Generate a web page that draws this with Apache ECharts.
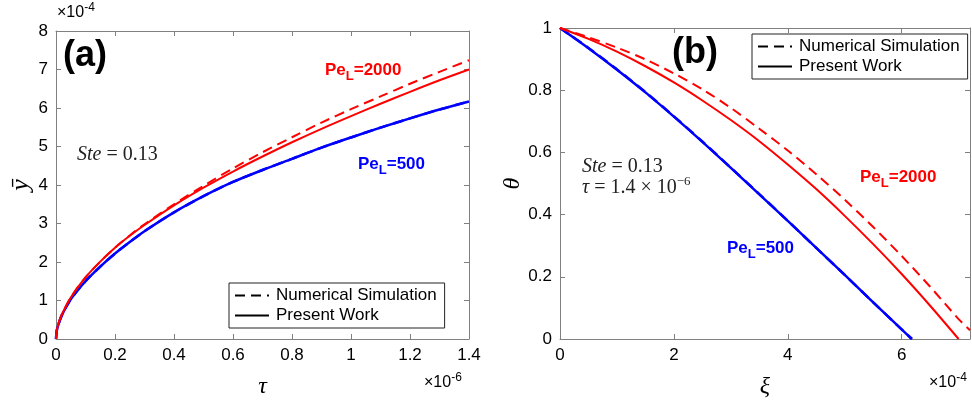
<!DOCTYPE html>
<html>
<head>
<meta charset="utf-8">
<script src="https://cdn.jsdelivr.net/npm/echarts@6/dist/echarts.min.js"></script>
<style>
  html, body { margin: 0; padding: 0; background: #fff; }
  #main { width: 972px; height: 404px; }
</style>
</head>
<body>
<div id="main"></div>
<script>
// panel (a): interface position vs time (y in 1e-4, tau in 1e-6)
var tauA = [0, 0.003, 0.01, 0.02, 0.05, 0.1, 0.15, 0.2, 0.25, 0.3, 0.4, 0.5, 0.6, 0.7, 0.8, 0.9, 1.0, 1.1, 1.2, 1.3, 1.4];
var yRedModelA = [0, 0.24, 0.44, 0.64, 1.08, 1.6, 2.01, 2.37, 2.68, 2.96, 3.47, 3.93, 4.35, 4.74, 5.11, 5.46, 5.79, 6.11, 6.42, 6.72, 7.0];
var yRedSimA = [0, 0.24, 0.44, 0.64, 1.08, 1.6, 2.01, 2.37, 2.69, 2.98, 3.5, 3.98, 4.43, 4.85, 5.24, 5.62, 5.97, 6.3, 6.63, 6.94, 7.24];
var yBlueModelA = [0, 0.23, 0.42, 0.62, 1.03, 1.5, 1.88, 2.22, 2.52, 2.8, 3.29, 3.71, 4.08, 4.39, 4.68, 4.97, 5.235, 5.49, 5.73, 5.96, 6.17];
var yBlueSimA = [0, 0.23, 0.42, 0.62, 1.03, 1.5, 1.88, 2.22, 2.52, 2.8, 3.29, 3.71, 4.08, 4.39, 4.68, 4.97, 5.235, 5.49, 5.73, 5.96, 6.17];

// panel (b): temperature profile (xi in 1e-4)
var xiBlue = [0, 0.5, 1, 1.5, 2, 2.5, 3, 3.5, 4, 4.5, 5, 5.5, 6, 6.18];
var thetaBlueModel = [1, 0.935, 0.866, 0.793, 0.715, 0.634, 0.55, 0.465, 0.38, 0.293, 0.206, 0.118, 0.031, 0];
var thetaBlueSim = [1, 0.936, 0.867, 0.794, 0.716, 0.635, 0.551, 0.466, 0.38, 0.293, 0.206, 0.118, 0.031, 0];
var xiRed = [0, 0.5, 1, 1.5, 2, 2.5, 3, 3.5, 4, 4.5, 5, 5.5, 6, 6.5, 7];
var thetaRedModel = [1, 0.965, 0.924, 0.877, 0.825, 0.767, 0.704, 0.636, 0.561, 0.482, 0.396, 0.305, 0.209, 0.107, 0];
var xiRedSim = [0, 0.5, 1, 1.5, 2, 2.5, 3, 3.5, 4, 4.5, 5, 5.5, 6, 6.5, 7, 7.2];
var thetaRedSim = [1, 0.97, 0.937, 0.899, 0.854, 0.803, 0.743, 0.676, 0.606, 0.53, 0.448, 0.36, 0.267, 0.168, 0.064, 0.028];

var legendNames = ['Numerical Simulation', 'Present Work'];

function pairs(xs, ys) {
    return xs.map(function (x, i) { return [x, ys[i]]; });
}

var sans = 'Liberation Sans, Arial, Helvetica, sans-serif';
var serif = 'Liberation Serif, Times New Roman, serif';
var axisGray = '#808080';

function boxAxis(pos, grid, min, max, interval, showLabel, extra) {
    var ax = {
        type: 'value', gridIndex: grid, position: pos,
        min: min, max: max, interval: interval,
        axisLine: { show: true, onZero: false, lineStyle: { color: axisGray, width: 1 } },
        axisTick: { show: true, inside: true, length: 5, lineStyle: { color: axisGray } },
        splitLine: { show: false },
        axisLabel: { show: showLabel, color: '#000', fontSize: 17, fontFamily: sans, margin: 8 }
    };
    for (var k in extra) ax[k] = extra[k];
    return ax;
}

function curve(name, xi, yi, xs, ys, color, width, dashed) {
    return {
        name: name, type: 'line', xAxisIndex: xi, yAxisIndex: yi,
        data: pairs(xs, ys), symbol: 'none', smooth: 0.3,
        lineStyle: { color: color, width: width, type: dashed ? [10, 6] : 'solid' }
    };
}

function peLabel(x, y, num, color) {
    return { type: 'text', left: x, top: y, style: { text: '{b|Pe}{s|L}{b|=' + num + '}', rich: {
        b: { fontSize: 17, fontWeight: 'bold', fontFamily: sans, fill: color },
        s: { fontSize: 13, fontWeight: 'bold', fontFamily: sans, fill: color, padding: [12, 0, 0, 0] } } } };
}

function expLabel(x, y, p) {
    return { type: 'text', left: x, top: y, style: { text: '{n|×10}{p|' + p + '}', rich: {
        n: { fontSize: 16, fontFamily: sans, fill: '#000' },
        p: { fontSize: 12, fontFamily: sans, fill: '#000', padding: [0, 0, 10, 0] } } } };
}

var legendBase = {
    data: legendNames, orient: 'vertical',
    itemWidth: 34, itemHeight: 12, itemGap: 3,
    padding: [4, 8, 4, 5],
    borderColor: '#222', borderWidth: 1, backgroundColor: '#fff',
    lineStyle: { color: '#000', width: 2 },
    itemStyle: { color: 'transparent', borderWidth: 0, opacity: 0 },
    textStyle: { color: '#000', fontSize: 17, fontFamily: sans, padding: [0, 0, 0, 2] },
    selectedMode: false
};

var myChart = echarts.init(document.getElementById('main'));

var option = {
    animation: false,
    backgroundColor: '#fff',
    grid: [
        { left: 56, top: 31, width: 413, height: 312 },
        { left: 560, top: 28, width: 410, height: 314 }
    ],
    xAxis: [
        boxAxis('bottom', 0, 0, 1.4, 0.2, true, {
            name: 'τ', nameLocation: 'middle', nameGap: 36,
            nameTextStyle: { fontFamily: serif, fontStyle: 'italic', fontSize: 24, color: '#000' }
        }),
        boxAxis('top', 0, 0, 1.4, 0.2, false, {}),
        boxAxis('bottom', 1, 0, 7.2, 2, true, {
            name: 'ξ', nameLocation: 'middle', nameGap: 36,
            nameTextStyle: { fontFamily: serif, fontStyle: 'italic', fontSize: 24, color: '#000' },
            axisLabel: { show: true, showMaxLabel: false, color: '#000', fontSize: 17, fontFamily: sans, margin: 8 }
        }),
        boxAxis('top', 1, 0, 7.2, 2, false, {})
    ],
    yAxis: [
        boxAxis('left', 0, 0, 8, 1, true, {
            name: 'ȳ', nameLocation: 'middle', nameGap: 19,
            nameTextStyle: { fontFamily: serif, fontStyle: 'italic', fontSize: 26, color: '#000' }
        }),
        boxAxis('right', 0, 0, 8, 1, false, {}),
        boxAxis('left', 1, 0, 1, 0.2, true, {
            name: 'θ', nameLocation: 'middle', nameGap: 32,
            nameTextStyle: { fontFamily: serif, fontStyle: 'italic', fontSize: 24, color: '#000' }
        }),
        boxAxis('right', 1, 0, 1, 0.2, false, {})
    ],
    legend: [
        Object.assign({}, legendBase, { left: 229, top: 283 }),
        Object.assign({}, legendBase, { left: 752, top: 34 })
    ],
    series: [
        curve('Present Work', 0, 0, tauA, yBlueModelA, '#0000ff', 2.5, false),
        curve('Numerical Simulation', 0, 0, tauA, yBlueSimA, '#0000ff', 2.5, true),
        curve('Present Work', 0, 0, tauA, yRedModelA, '#ff0000', 2, false),
        curve('Numerical Simulation', 0, 0, tauA, yRedSimA, '#ff0000', 2, true),

        curve('Present Work', 2, 2, xiBlue, thetaBlueModel, '#0000ff', 2.5, false),
        curve('Numerical Simulation', 2, 2, xiBlue, thetaBlueSim, '#0000ff', 2.5, true),
        curve('Present Work', 2, 2, xiRed, thetaRedModel, '#ff0000', 2, false),
        curve('Numerical Simulation', 2, 2, xiRedSim, thetaRedSim, '#ff0000', 2, true)
    ],
    graphic: [
        { type: 'text', left: 63, top: 38, style: { text: '(a)', font: 'bold 36px ' + sans, fill: '#000' } },
        { type: 'text', left: 672, top: 35, style: { text: '(b)', font: 'bold 36px ' + sans, fill: '#000' } },
        expLabel(57, 2, '-4'),
        expLabel(424, 372, '-6'),
        expLabel(929, 372, '-4'),
        peLabel(325, 62, '2000', '#ff0000'),
        peLabel(358, 156, '500', '#0000ff'),
        peLabel(860, 169, '2000', '#ff0000'),
        peLabel(727, 240, '500', '#0000ff'),
        { type: 'text', left: 77, top: 145, style: { text: '{i|Ste}{r| = 0.13}', rich: {
            i: { fontSize: 20, fontStyle: 'italic', fontFamily: serif, fill: '#222' },
            r: { fontSize: 20, fontFamily: serif, fill: '#222' } } } },
        { type: 'text', left: 582, top: 157, style: { text: '{i|Ste}{r| = 0.13}', rich: {
            i: { fontSize: 20, fontStyle: 'italic', fontFamily: serif, fill: '#222' },
            r: { fontSize: 20, fontFamily: serif, fill: '#222' } } } },
        { type: 'text', left: 582, top: 175, style: { text: '{i|τ}{r| = 1.4 × 10}{p|−6}', rich: {
            i: { fontSize: 20, fontStyle: 'italic', fontFamily: serif, fill: '#222' },
            r: { fontSize: 20, fontFamily: serif, fill: '#222' },
            p: { fontSize: 13, fontFamily: serif, fill: '#222', padding: [0, 0, 12, 0] } } } }
    ]
};

myChart.setOption(option);
</script>
</body>
</html>
